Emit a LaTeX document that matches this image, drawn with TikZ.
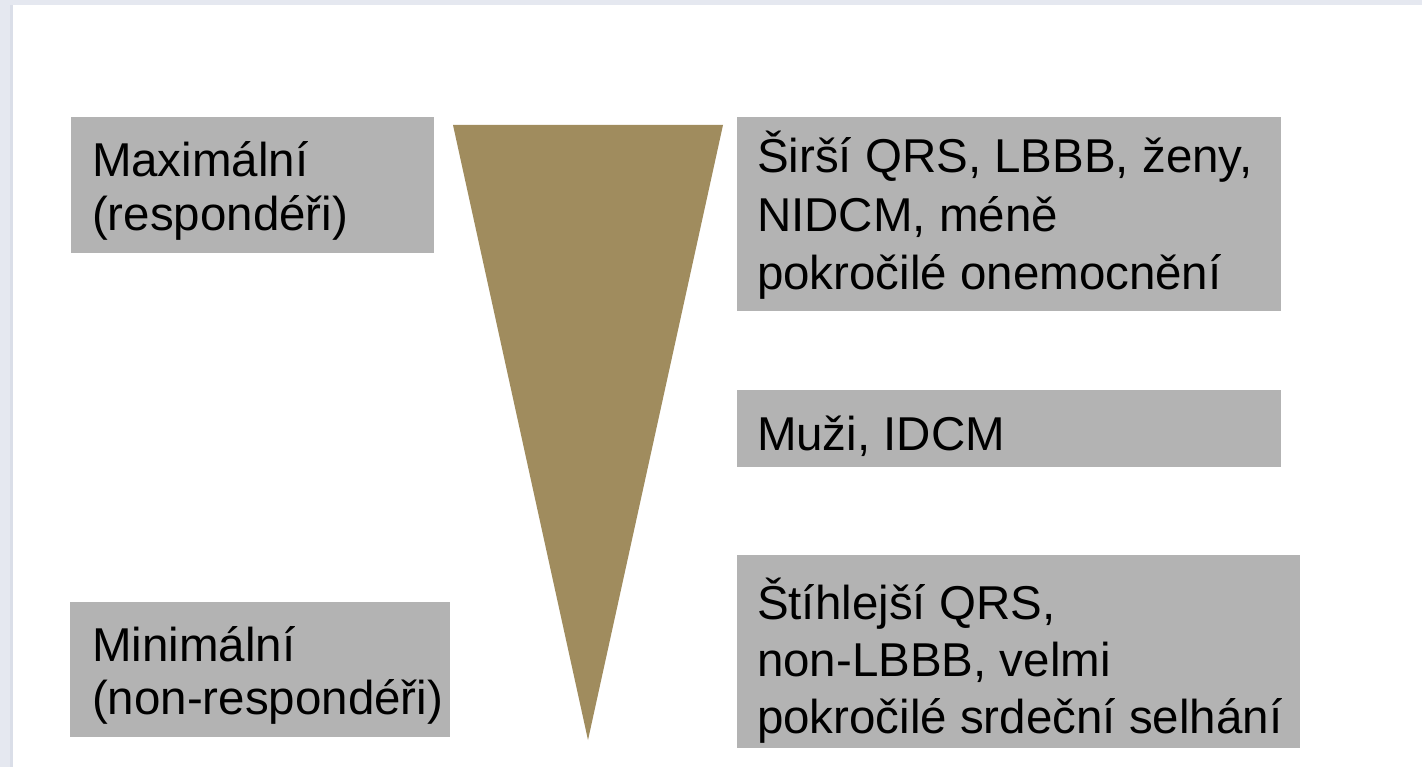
\documentclass[tikz,border=0pt]{standalone}
\usepackage{fontspec}
\setmainfont{Liberation Sans}
\definecolor{boxgray}{RGB}{179,179,179}
\definecolor{wedge}{RGB}{160,140,94}
\definecolor{frameblue}{RGB}{229,232,240}
\definecolor{frameline}{RGB}{218,222,232}
\newcommand{\boxtext}[2]{\parbox[t]{600pt}{\fontsize{47.5}{#1}\selectfont #2}}
\begin{document}
\begin{tikzpicture}[x=1pt,y=-1pt,
  graybox/.style={fill=boxgray, draw=none, rectangle, inner sep=0pt, outer sep=0pt, anchor=north west},
  boxlabel/.style={inner sep=0pt, outer sep=0pt, anchor=base west, text=black}]
\useasboundingbox (0,0) rectangle (1422,767);
% window frame
\fill[frameblue] (0,0) rectangle (1422,767);
\fill[frameline] (10,5) rectangle (13,767);
\fill[white] (13,5) rectangle (1422,767);
% wedge
\fill[wedge] (453,125) coordinate (wl) -- (723,125) coordinate (wr) -- (588,740) coordinate (wb) -- cycle;
% boxes
\node[graybox, minimum width=363pt, minimum height=136pt] (b1) at (71,117) {};
\node[graybox, minimum width=544pt, minimum height=194pt] (b2) at (737,117) {};
\node[graybox, minimum width=544pt, minimum height=77pt] (b3) at (737,390) {};
\node[graybox, minimum width=563pt, minimum height=193pt] (b4) at (737,555) {};
\node[graybox, minimum width=380pt, minimum height=135pt] (b5) at (70,602) {};
% texts
\node[boxlabel] (t1) at (92,177) {\boxtext{54pt}{Maximální\\(respondéři)}};
\node[boxlabel] (t2) at (757,173) {\boxtext{58.5pt}{Širší QRS, LBBB, ženy,\\NIDCM, méně\\pokročilé onemocnění}};
\node[boxlabel] (t3) at (757,450) {\boxtext{57pt}{Muži, IDCM}};
\node[boxlabel] (t4) at (757,619) {\boxtext{57pt}{Štíhlejší QRS,\\non-LBBB, velmi\\pokročilé srdeční selhání}};
\node[boxlabel] (t5) at (92,661) {\boxtext{53pt}{Minimální\\(non-respondéři)}};
\end{tikzpicture}
\end{document}
